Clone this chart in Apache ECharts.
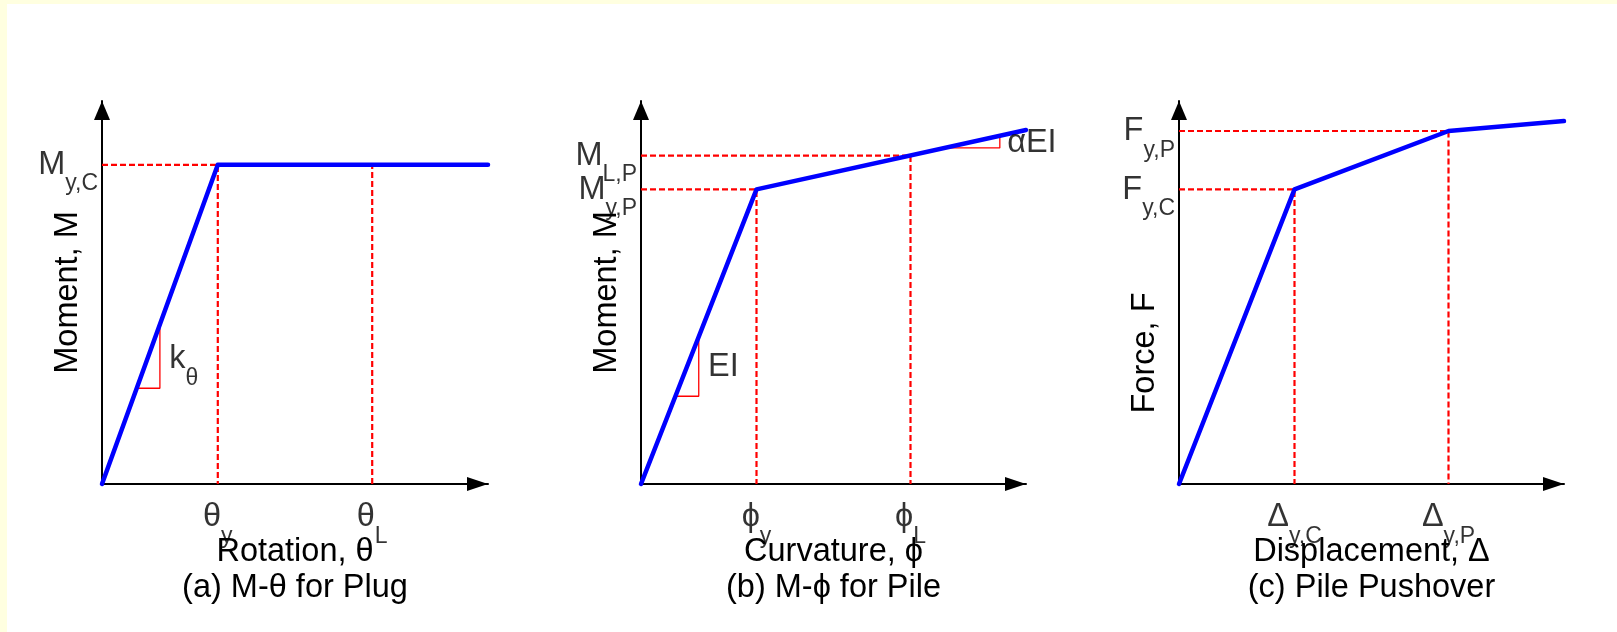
<!DOCTYPE html>
<html>
<head>
<meta charset="utf-8">
<script src="https://cdn.jsdelivr.net/npm/echarts@6/dist/echarts.min.js"></script>
<style>
html, body { margin: 0; padding: 0; width: 1617px; height: 632px; overflow: hidden; background: #ffffe0; }
#paper { position: absolute; left: 7px; top: 4px; right: 0; bottom: 0; background: #ffffff; }
#chart { position: absolute; left: 0; top: 0; width: 1617px; height: 632px; }
</style>
</head>
<body>
<div id="paper"></div>
<div id="chart"></div>
<script>
// ---------- Panel (a): M-θ for Plug ----------
const plugRotation = [0, 3, 10];
const plugMoment   = [0, 10, 10];
const plugThetaY = 3;
const plugThetaL = 7;
const plugMyC = 10;
const plugTickLabels  = [['θ', 'y'], ['θ', 'L']];
const plugLevelLabels = [['M', 'y,C']];
const plugSlope = [[0.9, 3.0], [1.5, 3.0], [1.5, 5.0]];
const plugSlopeLabel = ['k', 'θ'];
const plugSlopeLabelAt = [1.74, 3.91];

// ---------- Panel (b): M-ϕ for Pile ----------
const pileCurvature = [0, 3, 10];
const pileMoment    = [0, 9.23, 11.09];
const pilePhiY = 3;
const pilePhiL = 7;
const pileMyP = 9.23;
const pileMLP = 10.29;
const pileTickLabels  = [['ϕ', 'y'], ['ϕ', 'L']];
const pileLevelLabels = [['M', 'L,P'], ['M', 'y,P']];
const pileSlopeEI = [[0.9, 2.75], [1.5, 2.75], [1.5, 4.6]];
const pileSlopeAlpha = [[7.95, 10.53], [9.32, 10.53], [9.32, 10.9]];
const pileSlopeLabels = [['EI', ''], ['αEI', '']];
const pileSlopeLabelAt = [[1.74, 3.66], [9.51, 10.68]];

// ---------- Panel (c): Pile Pushover ----------
const pushDisp  = [0, 3, 7, 10];
const pushForce = [0, 9.23, 11.06, 11.37];
const pushDyC = 3;
const pushDyP = 7;
const pushFyC = 9.23;
const pushFyP = 11.06;
const pushTickLabels  = [['Δ', 'y,C'], ['Δ', 'y,P']];
const pushLevelLabels = [['F', 'y,P'], ['F', 'y,C']];

// ---------- Titles ----------
const xTitles = ['Rotation, θ\n(a) M-θ for Plug', 'Curvature, ϕ\n(b) M-ϕ for Pile', 'Displacement, Δ\n(c) Pile Pushover'];
const yTitles = ['Moment, M', 'Moment, M', 'Force, F'];

const FONT = "'Liberation Sans', Arial, Helvetica, 'DejaVu Sans', sans-serif";
const BLUE = '#0000ff';
const RED = '#ff0000';
const FS = 32.5;
const SFS = 23;

const chart = echarts.init(document.getElementById('chart'), null, { renderer: 'canvas' });

const grids = [
  { left: 102, top: 101, width: 386, height: 383 },
  { left: 641, top: 101, width: 385, height: 383 },
  { left: 1179, top: 101, width: 385, height: 383 }
];

function xAxis(i) {
  return {
    type: 'value', gridIndex: i, min: 0, max: 10,
    name: xTitles[i], nameLocation: 'middle', nameGap: 50,
    nameTextStyle: { fontSize: FS, lineHeight: 36, color: '#000', fontFamily: FONT },
    axisLine: { show: true, onZero: true, symbol: ['none', 'triangle'], symbolSize: [14, 21], symbolOffset: [0, -10.5],
      lineStyle: { color: '#000', width: 2 } },
    axisTick: { show: false }, axisLabel: { show: false }, splitLine: { show: false }
  };
}
function yAxis(i, padding) {
  return {
    type: 'value', gridIndex: i, min: 0, max: 12,
    name: yTitles[i], nameLocation: 'middle', nameGap: 18, nameRotate: 90,
    nameTextStyle: { fontSize: FS, lineHeight: FS, color: '#000', fontFamily: FONT, padding: padding || 0 },
    axisLine: { show: true, onZero: true, symbol: ['none', 'triangle'], symbolSize: [16, 19], symbolOffset: [0, -9.5],
      lineStyle: { color: '#000', width: 2 } },
    axisTick: { show: false }, axisLabel: { show: false }, splitLine: { show: false }
  };
}

const rich = {
  m: { fontSize: FS, lineHeight: FS, verticalAlign: 'top', color: '#000', fontFamily: FONT },
  s: { fontSize: SFS, lineHeight: SFS, verticalAlign: 'top', padding: [24, 0, 0, 0], color: '#000', fontFamily: FONT }
};
function fmt(p) {
  return '{m|' + p.data.main + '}' + (p.data.sub ? '{s|' + p.data.sub + '}' : '');
}
function labelSeries(i, items, align, offset) {
  return {
    type: 'scatter', xAxisIndex: i, yAxisIndex: i, silent: true, clip: false,
    symbol: 'circle', symbolSize: 1, itemStyle: { color: 'rgba(0,0,0,0)' },
    label: { show: true, position: 'inside', align: align, verticalAlign: 'middle', offset: offset, formatter: fmt, rich: rich },
    data: items, z: 20
  };
}
function item(x, y, pair) { return { value: [x, y], main: pair[0], sub: pair[1] }; }

function line(i, data, style, z) {
  return { type: 'line', xAxisIndex: i, yAxisIndex: i, data: data, symbol: 'none', silent: true, clip: false,
    lineStyle: style, z: z };
}
const dashed = { color: RED, width: 2.2, type: [6, 3] };
const thin = { color: RED, width: 1.3 };
const bold = { color: BLUE, width: 4.5, cap: 'round', join: 'round' };

const series = [
  // (a)
  line(0, [[0, plugMyC], [plugThetaY, plugMyC], [plugThetaY, 0]], dashed, 2),
  line(0, [[plugThetaL, 0], [plugThetaL, plugMyC]], dashed, 2),
  line(0, plugSlope, thin, 3),
  line(0, plugRotation.map((x, k) => [x, plugMoment[k]]), bold, 5),
  labelSeries(0, [item(0, plugMyC, plugLevelLabels[0])], 'right', [-4, 0]),
  labelSeries(0, [item(plugThetaY, 0, plugTickLabels[0]), item(plugThetaL, 0, plugTickLabels[1])], 'center', [0, 33]),
  labelSeries(0, [item(plugSlopeLabelAt[0], plugSlopeLabelAt[1], [plugSlopeLabel[0], plugSlopeLabel[1]])], 'left', [0, 0]),
  // (b)
  line(1, [[0, pileMyP], [pilePhiY, pileMyP], [pilePhiY, 0]], dashed, 2),
  line(1, [[0, pileMLP], [pilePhiL, pileMLP], [pilePhiL, 0]], dashed, 2),
  line(1, pileSlopeEI, thin, 3),
  line(1, pileSlopeAlpha, thin, 3),
  line(1, pileCurvature.map((x, k) => [x, pileMoment[k]]), bold, 5),
  labelSeries(1, [item(0, pileMLP, pileLevelLabels[0]), item(0, pileMyP, pileLevelLabels[1])], 'right', [-4, 0]),
  labelSeries(1, [item(pilePhiY, 0, pileTickLabels[0]), item(pilePhiL, 0, pileTickLabels[1])], 'center', [0, 33]),
  labelSeries(1, [item(pileSlopeLabelAt[0][0], pileSlopeLabelAt[0][1], pileSlopeLabels[0]),
                  item(pileSlopeLabelAt[1][0], pileSlopeLabelAt[1][1], pileSlopeLabels[1])], 'left', [0, 0]),
  // (c)
  line(2, [[0, pushFyC], [pushDyC, pushFyC], [pushDyC, 0]], dashed, 2),
  line(2, [[0, pushFyP], [pushDyP, pushFyP], [pushDyP, 0]], dashed, 2),
  line(2, pushDisp.map((x, k) => [x, pushForce[k]]), bold, 5),
  labelSeries(2, [item(0, pushFyP, pushLevelLabels[0]), item(0, pushFyC, pushLevelLabels[1])], 'right', [-4, 0]),
  labelSeries(2, [item(pushDyC, 0, pushTickLabels[0]), item(pushDyP, 0, pushTickLabels[1])], 'center', [0, 33])
];

chart.setOption({
  animation: false,
  backgroundColor: 'transparent',
  textStyle: { fontFamily: FONT },
  grid: grids,
  xAxis: [xAxis(0), xAxis(1), xAxis(2)],
  yAxis: [yAxis(0), yAxis(1), yAxis(2, [0, 121, 0, 0])],
  series: series
});
</script>
</body>
</html>
